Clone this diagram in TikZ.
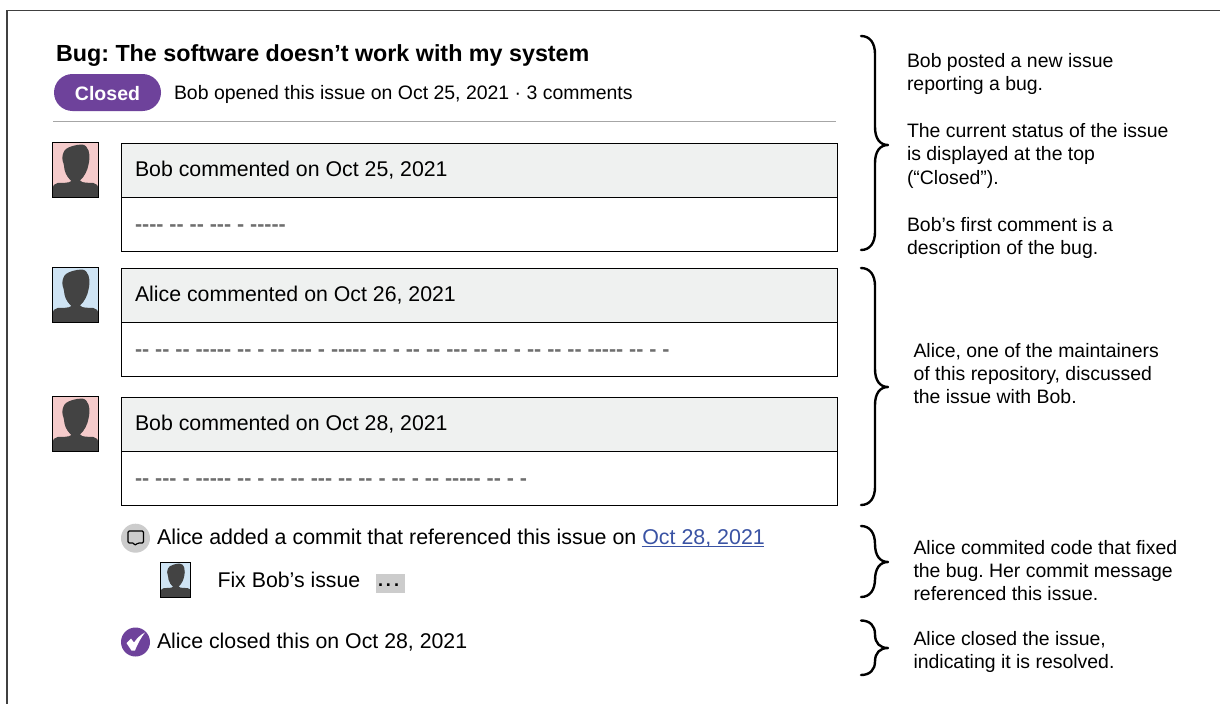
\documentclass[tikz,border=0pt]{standalone}
\usepackage{fontspec}
\setmainfont{Liberation Sans}
\newfontfamily\hyfont{Liberation Sans}
\AtBeginDocument{\frenchspacing}
\definecolor{purp}{HTML}{6E429B}
\definecolor{hdr}{HTML}{EFF1F0}
\definecolor{pinkbg}{HTML}{F5CBCB}
\definecolor{bluebg}{HTML}{CFE4F4}
\definecolor{sil}{HTML}{434343}
\definecolor{lgrey}{HTML}{CCCCCC}
\definecolor{linkb}{HTML}{3A53A4}
\definecolor{dashg}{HTML}{6F6F6F}
\newcommand{\avatar}[6]{% name x y w h colour
  \node[fill=#6,minimum width=#4pt,minimum height=#5pt,inner sep=0pt,outer sep=0pt,anchor=north west] (#1) at (#2,#3) {};
  \begin{scope}[shift={(#2,#3)},x=#4pt/46,y=-#5pt/55]
    \fill[sil] (0,55) -- (0,46) .. controls (0,43) and (2,41) .. (5,40.5)
      .. controls (10,40) and (16,41) .. (19,38.5) .. controls (16,36) and (13,32) .. (12,27)
      .. controls (11.5,24) and (11.5,22) .. (11,21) .. controls (9.5,18) and (9.5,13) .. (11,10)
      .. controls (12,7) and (15,5) .. (20,3.5) .. controls (23,2) and (27,2.5) .. (29,2)
      .. controls (33,2) and (35,5) .. (36,8) .. controls (37.5,13) and (37,18) .. (36,22)
      .. controls (35,28) and (32,34) .. (27.5,38) .. controls (30,41) and (36,40) .. (41,40.5)
      .. controls (44,41) and (46,43) .. (46,46) -- (46,55) -- cycle;
    \draw[black,line width=1pt] (0,0) rectangle (46,55);
  \end{scope}}
\tikzset{
  base/.style={inner sep=0pt,outer sep=0pt,text=black},
  lbl/.style={base,anchor=base west,font=\fontsize{21.3}{24}\selectfont},
  sm/.style={base,anchor=base west,font=\fontsize{19.44}{23.2}\selectfont,align=left},
  hbox/.style={draw=black,line width=1pt,fill=hdr,minimum width=716pt,minimum height=54pt,inner sep=0pt,outer sep=0pt,anchor=north west},
  bbox/.style={draw=black,line width=1pt,fill=white,minimum width=716pt,minimum height=54pt,inner sep=0pt,outer sep=0pt,anchor=north west},
  dashtxt/.style={base,anchor=base west,text=dashg,font=\hyfont\bfseries\fontsize{21.4}{24}\selectfont},
  brace/.style={draw=black,line width=2.4pt,line cap=round,line join=round}
}
\newcommand{\bracepath}[5]{% x top tip bottom r
  \draw[brace] (#1,#2) .. controls (#1+9,#2) and (#1+14,#2+#5*0.4) .. (#1+14,#2+#5)
    -- (#1+14,#3-#5) .. controls (#1+14,#3-#5*0.35) and (#1+19,#3) .. (#1+27,#3)
    .. controls (#1+19,#3) and (#1+14,#3+#5*0.35) .. (#1+14,#3+#5)
    -- (#1+14,#4-#5) .. controls (#1+14,#4-#5*0.4) and (#1+9,#4) .. (#1,#4);}
\begin{document}
\begin{tikzpicture}[x=1pt,y=-1pt]
\useasboundingbox (0,0) rectangle (1220,704);
\fill[white] (0,0) rectangle (1220,704);
% frame
\coordinate (ftl) at (7,10.5);
\coordinate (ftr) at (1220,10.5);
\coordinate (fbl) at (7,704);
\draw[black!75,line width=1.3pt] (ftr) -- (ftl) -- (fbl);
% title
\node[base,anchor=base west,font=\bfseries\fontsize{23.3}{26}\selectfont] (title) at (56,61) {Bug: The software doesn’t work with my system};
\node[base,fill=purp,rounded corners=18.5pt,minimum width=107pt,minimum height=37pt,anchor=north west] (pill) at (54,74) {};
\node[base,text=white,font=\bfseries\fontsize{19.5}{24}\selectfont] (closed) at (107.5,93.7) {Closed};
\node[lbl,font=\fontsize{19.46}{24}\selectfont] (opened) at (174,99) {Bob opened this issue on Oct 25, 2021 · 3 comments};
\coordinate (r1) at (53,121.5);
\coordinate (r2) at (836,121.5);
\draw[black!35,line width=1.2pt] (r1) -- (r2);
% comments
\avatar{a1}{52.5}{142.5}{46}{55}{pinkbg}
\node[hbox] (h1) at (121,143) {};
\node[bbox] (b1) at (121,197) {};
\node[lbl] (t1) at (135,176.5) {Bob commented on Oct 25, 2021};
\node[dashtxt] (d1) at (135,231) {---- -- -- --- - -----};
\avatar{a2}{52.5}{267.5}{46}{55}{bluebg}
\node[hbox] (h2) at (121,268) {};
\node[bbox] (b2) at (121,322) {};
\node[lbl] (t2) at (135,301.5) {Alice commented on Oct 26, 2021};
\node[dashtxt] (d2) at (135,356) {-- -- -- ----- -- - -- --- - ----- -- - -- -- --- -- -- - -- -- -- ----- -- - -};
\avatar{a3}{52.5}{396.5}{46}{55}{pinkbg}
\node[hbox] (h3) at (121,397) {};
\node[bbox] (b3) at (121,451) {};
\node[lbl] (t3) at (135,430.5) {Bob commented on Oct 28, 2021};
\node[dashtxt] (d3) at (135,485) {-- --- - ----- -- - -- -- --- -- -- - -- - -- ----- -- - -};
% commit event
\node[base,circle,fill=lgrey,minimum size=29pt,anchor=center] (c1) at (135.5,538.2) {};
\draw[black,line width=1.2pt,line join=round,rounded corners=1.2pt] (128,531) -- (143.5,531) -- (143.5,543) -- (138,543) -- (134.5,545.5) -- (134,543) -- (128,543) -- cycle;
\node[lbl,font=\fontsize{21.4}{24}\selectfont] (t4) at (157,544) {Alice added a commit that referenced this issue on \textcolor{linkb}{Oct 28, 2021}};
\coordinate (u1) at (641.5,546.5);
\coordinate (u2) at (763.5,546.5);
\draw[linkb,line width=1pt] (u1) -- (u2);
\avatar{a4}{160.7}{562.3}{30}{35}{bluebg}
\node[lbl] (t5) at (217.5,587) {Fix Bob’s issue};
\node[base,fill=lgrey,minimum width=29pt,minimum height=19pt,anchor=north west] (more) at (375.5,574) {};
\node[base,font=\bfseries\fontsize{18}{20}\selectfont,anchor=base] (moret) at (388.5,586) {.\kern3pt.\kern3pt.};
% closed event
\node[base,circle,fill=purp,minimum size=29pt,anchor=center] (c2) at (135.5,642) {};
\fill[white] (126.5,643) -- (131,638.5) -- (134,642.5) .. controls (137,638) and (141,634.5) .. (145,632.5) .. controls (141,637.5) and (137.5,644) .. (135,650.5) -- (131.5,650.5) -- cycle;
\node[lbl] (t6) at (157,648) {Alice closed this on Oct 28, 2021};
% braces
\bracepath{861}{36}{145}{250}{18}
\bracepath{861}{268}{387}{505}{18}
\bracepath{861}{526}{562}{597}{18}
\bracepath{861}{620.5}{648}{675}{13.5}
% annotations
\node[sm] (n1) at (907,90.5) {Bob posted a new issue\\reporting a bug.};
\node[sm] (n2) at (907,184) {The current status of the issue\\is displayed at the top\\(“Closed”).};
\node[sm] (n3) at (907,254.5) {Bob’s first comment is a\\description of the bug.};
\node[sm] (n4) at (913.5,403.5) {Alice, one of the maintainers\\of this repository, discussed\\the issue with Bob.};
\node[sm] (n5) at (913.5,600.5) {Alice commited code that fixed\\the bug. Her commit message\\referenced this issue.};
\node[sm] (n6) at (913.5,668.5) {Alice closed the issue,\\indicating it is resolved.};
\end{tikzpicture}
\end{document}
